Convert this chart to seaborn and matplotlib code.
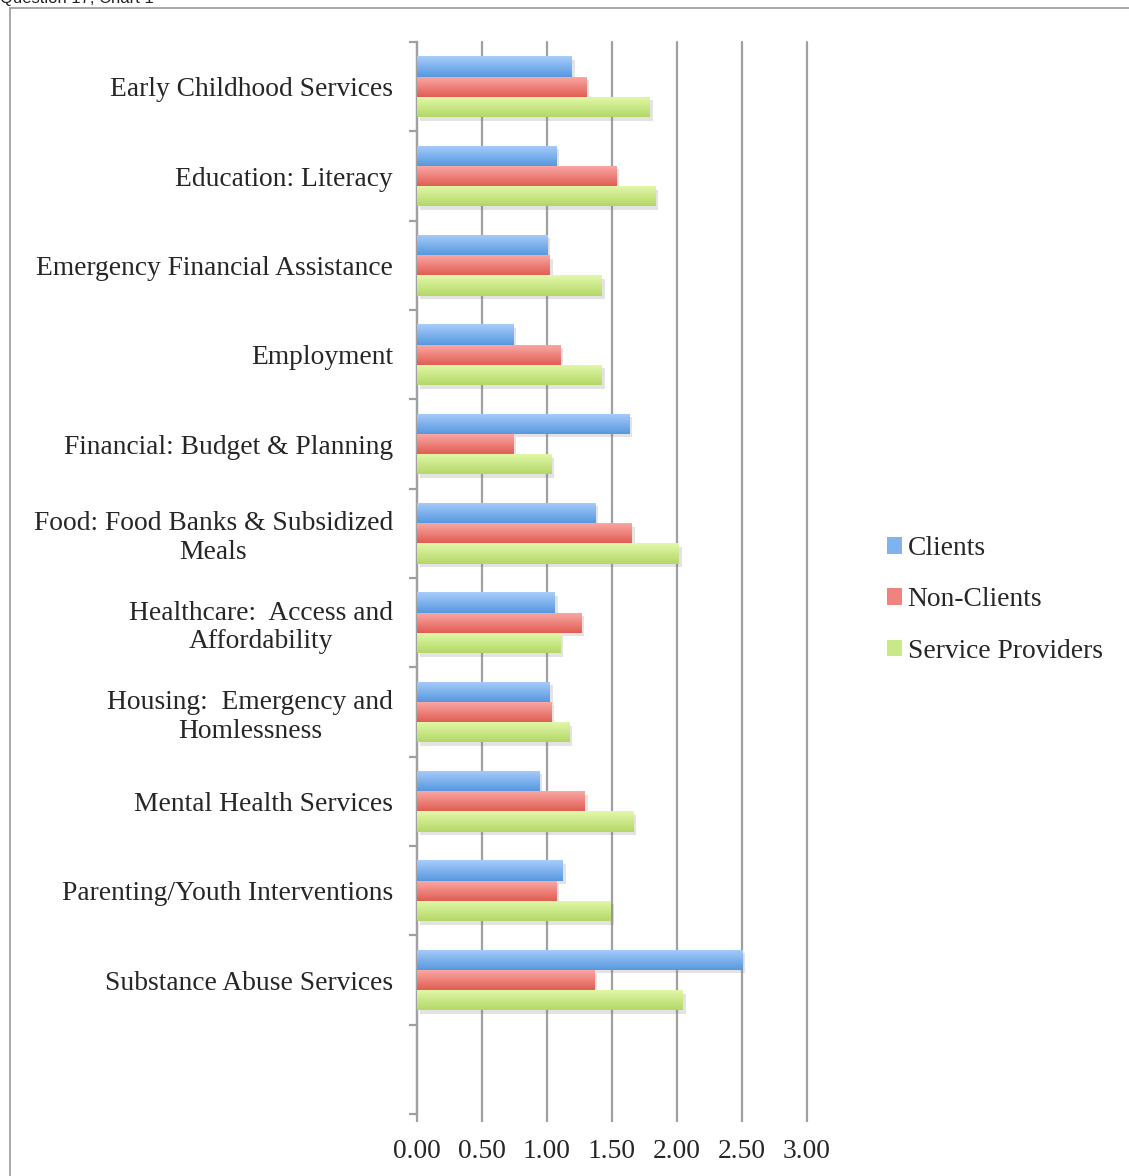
import numpy as np
import pandas as pd
import matplotlib
matplotlib.use("Agg")
import matplotlib.pyplot as plt
import matplotlib.patheffects as pe
from matplotlib.colors import to_rgb
from matplotlib.lines import Line2D
from matplotlib.patches import Patch
import seaborn as sns

categories = [
    "Early Childhood Services",
    "Education: Literacy",
    "Emergency Financial Assistance",
    "Employment",
    "Financial: Budget & Planning",
    "Food: Food Banks & Subsidized\nMeals",
    "Healthcare:  Access and\nAffordability",
    "Housing:  Emergency and\nHomlessness",
    "Mental Health Services",
    "Parenting/Youth Interventions",
    "Substance Abuse Services",
]
clients = [1.19, 1.07, 1.00, 0.74, 1.63, 1.37, 1.06, 1.02, 0.94, 1.12, 2.50]
non_clients = [1.30, 1.53, 1.02, 1.10, 0.74, 1.65, 1.26, 1.03, 1.29, 1.07, 1.36]
service_providers = [1.79, 1.83, 1.42, 1.42, 1.03, 2.01, 1.10, 1.17, 1.66, 1.49, 2.04]
series_names = ["Clients", "Non-Clients", "Service Providers"]
x_ticks = [0.0, 0.5, 1.0, 1.5, 2.0, 2.5, 3.0]

# light top / darker bottom for each series
gradients = {
    "Clients": ("#a8cdfb", "#5798de"),
    "Non-Clients": ("#fbaaa7", "#e05e53"),
    "Service Providers": ("#e3f9aa", "#b3d767"),
}

df = pd.DataFrame({
    "Category": categories * 3,
    "Series": np.repeat(series_names, len(categories)),
    "Score": clients + non_clients + service_providers,
})

sns.set_style("white")
plt.rcParams["font.family"] = ["Liberation Serif", "DejaVu Serif"]
FS = 19.8

fig = plt.figure(figsize=(11.29, 11.76), dpi=100)
W, H = 1129, 1176
ax = fig.add_axes([416.5 / W, 1 - 1114 / H, (807 - 416.5) / W, (1114 - 42) / H])

sns.barplot(data=df, y="Category", x="Score", hue="Series", hue_order=series_names,
            order=categories, orient="h", width=0.68, ax=ax, legend=False,
            palette=[gradients[s][1] for s in series_names], saturation=1,
            edgecolor="none", linewidth=0, zorder=3)

# gradient fill and soft shadow for each bar
bars = list(ax.patches)
for i, bar in enumerate(bars):
    s = series_names[i // len(categories)]
    top, bot = np.array(to_rgb(gradients[s][0])), np.array(to_rgb(gradients[s][1]))
    t = np.linspace(0, 1, 64)[:, None]
    img = (top * (1 - t) + bot * t)[:, None, :]
    x0, y0 = bar.get_x(), bar.get_y()
    w, h = bar.get_width(), bar.get_height()
    bar.set_path_effects([pe.SimplePatchShadow(offset=(2.5, -2.5), shadow_rgbFace="#808080",
                                               alpha=0.22), pe.Normal()])
    im = ax.imshow(img, extent=(x0, x0 + w, y0 + h, y0), origin="upper",
                   aspect="auto", zorder=4, interpolation="bilinear")
    im.set_clip_path(bar)

ax.set_xlim(0, 3.0)
ax.set_ylim(len(categories) + 0.5, -0.5)
ax.set_xlabel("")
ax.set_ylabel("")

grid_c = "#a0a0a0"
ax.set_xticks(x_ticks)
ax.set_xticklabels([f"{v:.2f}" for v in x_ticks], fontsize=FS)
for v in x_ticks:
    ax.axvline(v, color=grid_c, lw=1.6, zorder=1, clip_on=False)

ax.set_yticks(range(len(categories)))
ax.set_yticklabels(categories, fontsize=FS, multialignment="center", linespacing=1.2)
ax.set_yticks(np.arange(-0.5, len(categories) + 1.0, 1.0), minor=True)
ax.tick_params(axis="y", which="major", left=False, length=0, pad=17)
ax.tick_params(axis="y", which="minor", left=True, length=6, width=1.6, color=grid_c,
               direction="out")
ax.tick_params(axis="x", which="major", bottom=True, length=6, width=1.6, color=grid_c,
               direction="out", pad=12)

for side in ["top", "right", "bottom"]:
    ax.spines[side].set_visible(False)
ax.spines["left"].set_color(grid_c)
ax.spines["left"].set_linewidth(1.6)

handles = [Patch(facecolor=tuple((np.array(to_rgb(gradients[s][0])) + np.array(to_rgb(gradients[s][1]))) / 2),
                 edgecolor="none") for s in series_names]
fig.legend(handles, series_names, loc="center left",
           bbox_to_anchor=(876 / W, 1 - 600 / H), frameon=False, fontsize=FS,
           handlelength=0.55, handleheight=0.55, handletextpad=0.2, labelspacing=0.95,
           borderaxespad=0)

# outer frame and caption
fig.add_artist(Line2D([10 / W, 1.0], [1 - 7.5 / H, 1 - 7.5 / H], color="#999999", lw=1.2))
fig.add_artist(Line2D([10 / W, 10 / W], [0, 1 - 7.5 / H], color="#999999", lw=1.2))
fig.text(0, 1 - 3 / H, "Question 17, Chart 1", fontsize=12, family="Liberation Sans",
         va="baseline", ha="left", color="#222222")

fig.savefig("out.png", dpi=100)
